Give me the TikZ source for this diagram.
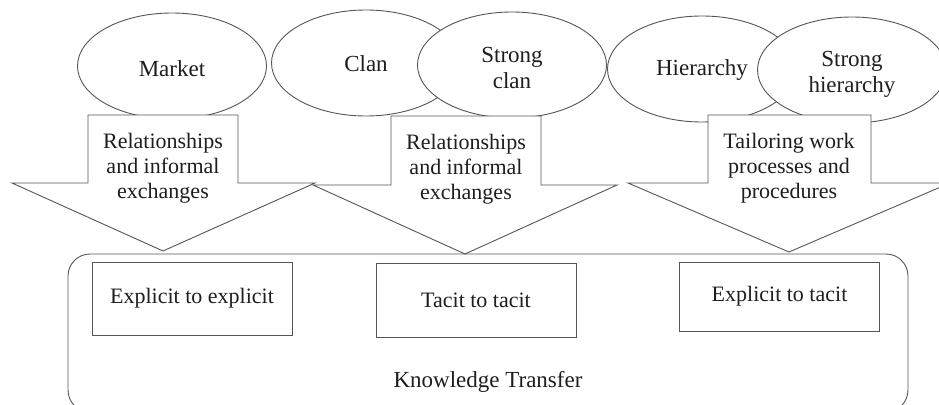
\documentclass[tikz,border=0pt]{standalone}
\usepackage{fontspec}
\setmainfont{Liberation Serif}
\usetikzlibrary{shapes.geometric}
\definecolor{edge}{RGB}{85,85,85}
\definecolor{ink}{RGB}{30,30,30}
\tikzset{
  culture/.style={ellipse, draw=edge, line width=0.9pt, fill=white,
    minimum width=189pt, minimum height=106pt, inner sep=0pt},
  culturetext/.style={text=ink, font=\fontsize{23}{26}\selectfont, align=center},
  flowarrow/.style={draw=edge, line width=0.9pt, fill=white, line join=miter},
  arrowtext/.style={text=ink, font=\fontsize{22}{25}\selectfont, align=center},
  transferbox/.style={draw=edge, line width=0.9pt, fill=white,
    minimum width=200pt, inner sep=0pt, text=ink,
    font=\fontsize{22}{25}\selectfont},
  panel/.style={draw=edge, line width=0.9pt, rounded corners=22pt},
}
\begin{document}
\begin{tikzpicture}[x=1pt,y=-1pt]
\useasboundingbox (0,0) rectangle (939,404);
\clip (0,0) rectangle (939,404);
\fill[white] (0,0) rectangle (939,404);

% organisational cultures
\node[culture] (market) at (172,66) {};
\node[culturetext] (marketlbl) at (172,69) {Market};
\node[culture] (clan) at (366,63) {};
\node[culturetext] (clanlbl) at (366,64) {Clan};
\node[culture] (sclan) at (512,65) {};
\node[culturetext] (sclanlbl) at (512,68) {Strong\\clan};
\node[culture] (hier) at (702,69) {};
\node[culturetext] (hierlbl) at (702,70) {Hierarchy};
\node[culture] (shier) at (852,70) {};
\node[culturetext] (shierlbl) at (852,74) {Strong\\hierarchy};

% mechanisms (block arrows pointing down)
\draw[flowarrow] (88,115) -- (238,115) -- (238,183) -- (315,183) -- (163,251)
  -- (12,183) -- (88,183) -- cycle;
\node[arrowtext] (mech1) at (163,168) {Relationships\\and informal\\exchanges};

\draw[flowarrow] (391,116) -- (541,116) -- (541,185) -- (617,185) -- (465,254)
  -- (313,185) -- (391,185) -- cycle;
\node[arrowtext] (mech2) at (466,169) {Relationships\\and informal\\exchanges};

\draw[flowarrow] (708,115) -- (871,115) -- (871,183) -- (950,183) -- (789,252)
  -- (628,183) -- (708,183) -- cycle;
\node[arrowtext] (mech3) at (789,168) {Tailoring work\\processes and\\procedures};

% knowledge transfer panel
\draw[panel] (68,254) rectangle (908,412);
\node[transferbox, minimum height=73pt] (ee) at (192,298.5) {Explicit to explicit};
\node[transferbox, minimum height=74pt] (tt) at (476,300) {Tacit to tacit};
\node[transferbox, minimum height=69pt] (et) at (779.5,296.5) {Explicit to tacit};
\node[text=ink, font=\fontsize{23}{26}\selectfont] (kt) at (488,382) {Knowledge Transfer};
\end{tikzpicture}
\end{document}
